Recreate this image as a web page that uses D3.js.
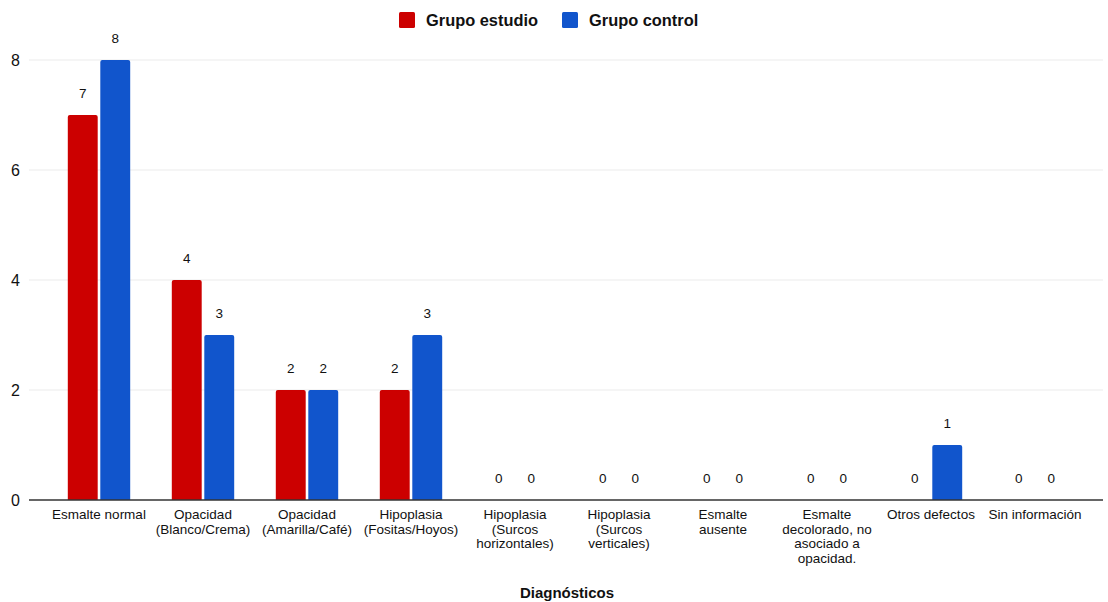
<!DOCTYPE html>
<html>
<head>
<meta charset="utf-8">
<script src="https://cdn.jsdelivr.net/npm/d3@7"></script>
<style>
  html, body { margin: 0; padding: 0; background: #fff; }
  svg { display: block; font-family: "Liberation Sans", Arial, sans-serif; }
</style>
</head>
<body>
<svg id="chart" width="1108" height="602"></svg>
<script>
// Diagnósticos por grupo
const categories = [
  "Esmalte normal",
  "Opacidad\n(Blanco/Crema)",
  "Opacidad\n(Amarilla/Café)",
  "Hipoplasia\n(Fositas/Hoyos)",
  "Hipoplasia\n(Surcos\nhorizontales)",
  "Hipoplasia\n(Surcos\nverticales)",
  "Esmalte\nausente",
  "Esmalte\ndecolorado, no\nasociado a\nopacidad.",
  "Otros defectos",
  "Sin información"
];
const seriesNames = ["Grupo estudio", "Grupo control"];
const grupoEstudio = [7, 4, 2, 2, 0, 0, 0, 0, 0, 0];
const grupoControl = [8, 3, 2, 3, 0, 0, 0, 0, 1, 0];
const yTicks = [0, 2, 4, 6, 8];
const colors = ["#cc0000", "#1155cc"];
const xTitle = "Diagnósticos";

const svg = d3.select("#chart");
const margin = { left: 47, right: 21, top: 60, bottom: 102 };
const W = 1108, H = 602;

const x = d3.scaleBand()
  .domain(d3.range(categories.length))
  .range([margin.left, W - margin.right])
  .paddingInner(0.4).paddingOuter(0.2);
const x1 = d3.scaleBand()
  .domain([0, 1])
  .range([0, x.bandwidth()])
  .paddingInner(0.08);
const y = d3.scaleLinear().domain([0, 8]).range([H - margin.bottom, margin.top]);

// gridlines
svg.append("g")
  .selectAll("line")
  .data(yTicks.filter(d => d > 0))
  .join("line")
  .attr("x1", 29).attr("x2", 1103)
  .attr("y1", d => y(d)).attr("y2", d => y(d))
  .attr("stroke", "#ebebeb").attr("stroke-width", 1);

// y tick labels
svg.append("g")
  .selectAll("text")
  .data(yTicks)
  .join("text")
  .attr("x", 20).attr("y", d => y(d))
  .attr("dy", "0.36em")
  .attr("text-anchor", "end")
  .attr("font-size", 16)
  .attr("fill", "#111")
  .text(d => d);

// bars
const seriesData = [grupoEstudio, grupoControl];
const rows = [];
categories.forEach((c, i) => {
  seriesData.forEach((s, k) => rows.push({ i, k, v: s[i] }));
});

const r = 2;
function barPath(d) {
  const x0 = x(d.i) + x1(d.k), w = x1.bandwidth();
  const y0 = y(0), y1v = y(d.v);
  if (d.v === 0) return "";
  return `M${x0},${y0}V${y1v + r}Q${x0},${y1v} ${x0 + r},${y1v}H${x0 + w - r}Q${x0 + w},${y1v} ${x0 + w},${y1v + r}V${y0}Z`;
}
svg.append("g")
  .selectAll("path")
  .data(rows)
  .join("path")
  .attr("d", barPath)
  .attr("fill", d => colors[d.k]);

// value labels
svg.append("g")
  .selectAll("text")
  .data(rows)
  .join("text")
  .attr("x", d => x(d.i) + x1(d.k) + x1.bandwidth() / 2)
  .attr("y", d => y(d.v) - 17)
  .attr("text-anchor", "middle")
  .attr("font-size", 13.5)
  .attr("fill", "#111")
  .text(d => d.v);

// baseline
svg.append("line")
  .attr("x1", 29).attr("x2", 1103)
  .attr("y1", y(0)).attr("y2", y(0))
  .attr("stroke", "#333").attr("stroke-width", 1.3);

// category labels
const catG = svg.append("g");
categories.forEach((c, i) => {
  const t = catG.append("text")
    .attr("x", x(i) + x.bandwidth() / 2)
    .attr("y", y(0) + 19)
    .attr("text-anchor", "middle")
    .attr("font-size", 13.5)
    .attr("fill", "#111");
  c.split("\n").forEach((line, j) => {
    t.append("tspan")
      .attr("x", x(i) + x.bandwidth() / 2)
      .attr("dy", j === 0 ? 0 : 14.5)
      .text(line);
  });
});

// axis title
svg.append("text")
  .attr("x", 567).attr("y", 598)
  .attr("text-anchor", "middle")
  .attr("font-size", 15)
  .attr("font-weight", "bold")
  .attr("fill", "#111")
  .text(xTitle);

// legend
const legendX = [399, 562];
const lg = svg.append("g");
seriesNames.forEach((n, k) => {
  lg.append("rect")
    .attr("x", legendX[k]).attr("y", 12)
    .attr("width", 16).attr("height", 16)
    .attr("rx", 1.5)
    .attr("fill", colors[k]);
  lg.append("text")
    .attr("x", legendX[k] + 27).attr("y", 20)
    .attr("dy", "0.36em")
    .attr("font-size", 16.4)
    .attr("font-weight", "bold")
    .attr("fill", "#111")
    .text(n);
});
</script>
</body>
</html>
